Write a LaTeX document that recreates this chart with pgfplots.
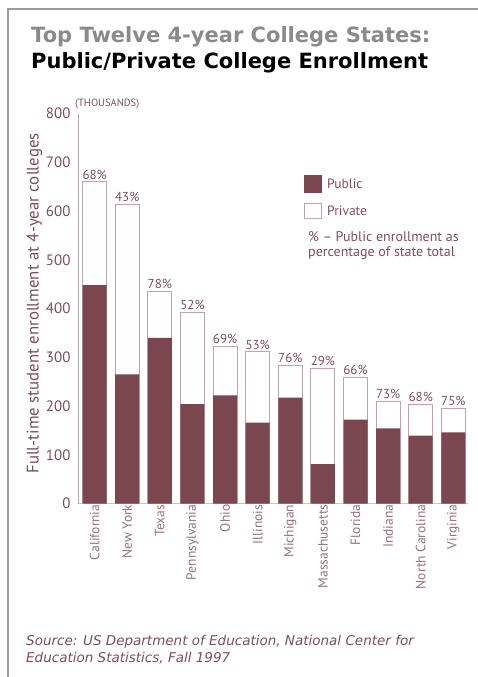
\documentclass[border=0pt]{standalone}
\usepackage{pgfplots}
\pgfplotsset{compat=1.18}
\usepackage{pgfplotstable}
\usepackage{fontspec}
\setmainfont{PT Sans}
\newfontfamily\verd{DejaVu Sans}

\definecolor{pubcol}{HTML}{7A4650}
\definecolor{txtcol}{HTML}{7E4E57}
\definecolor{lightcol}{HTML}{C4A2A8}
\definecolor{framecol}{HTML}{9A9A9A}
\definecolor{titlegray}{HTML}{8A8A8A}

% enrollment in thousands: public, state total, public share (%)
\pgfplotstableread{
x pub total pct
0 448 660 68
1 265 614 43
2 340 436 78
3 204 392 52
4 222 322 69
5 166 311 53
6 217 284 76
7 81 277 29
8 172 259 66
9 154 210 73
10 139 203 68
11 146 195 75
}\enroll

\begin{document}
\begin{tikzpicture}
\begin{scope}[x=1pt,y=1pt]
\useasboundingbox (0,0) rectangle (478,-677);
% frame
\draw[framecol, line width=1.6pt] (478,-9) -- (8,-9) -- (8,-677);
% title
\node[anchor=base west, inner sep=0, font=\verd\bfseries\fontsize{21}{25}\selectfont, text=titlegray] at (31,-43) {Top Twelve 4-year College States:};
\node[anchor=base west, inner sep=0, font=\verd\bfseries\fontsize{21}{25}\selectfont, text=black] at (31,-68) {Public/Private College Enrollment};
\coordinate (axorigin) at (78,-503.5);
\end{scope}

\begin{axis}[
  at={(axorigin)}, anchor=south west,
  scale only axis, width=390pt, height=390pt,
  xmin=-0.51, xmax=11.45, ymin=0, ymax=800,
  ybar, bar width=24pt,
  axis x line=bottom, axis y line=left,
  axis line style={-, draw=lightcol, line width=0.9pt},
  x axis line style={draw=lightcol!70},
  xtick=data,
  xticklabels={California,New York,Texas,Pennsylvania,Ohio,Illinois,Michigan,Massachusetts,Florida,Indiana,North Carolina,Virginia},
  xticklabel style={rotate=90, anchor=east, font=\fontsize{13.5}{15}\selectfont, text=txtcol!80, inner sep=1pt},
  ytick={0,100,...,800},
  yticklabel style={font=\fontsize{15}{17}\selectfont, text=txtcol, xshift=-4pt},
  /pgf/number format/assume math mode=true,
  major tick length=0pt,
  ylabel={Full-time student enrollment at 4-year colleges},
  ylabel style={font=\fontsize{16.8}{19}\selectfont, text=txtcol, at={(axis description cs:-0.112,0.513)}, anchor=center},
  clip=false,
]
% state total: outlined bar, private share shows as the white part
\addplot[bar shift=0pt, fill=white, draw=lightcol, line width=0.8pt,
  point meta=explicit symbolic,
  nodes near coords={\pgfplotspointmeta\%},
  every node near coord/.append style={anchor=south, font=\fontsize{13}{15}\selectfont, text=txtcol, inner sep=2pt}]
  table[x=x, y=total, meta=pct] {\enroll};
% public enrollment drawn over it
\addplot[bar shift=0pt, fill=pubcol, draw=none] table[x=x, y=pub] {\enroll};
\end{axis}

\begin{scope}[x=1pt,y=1pt]
\node[anchor=base west, inner sep=0, font=\fontsize{10.5}{12}\selectfont, text=txtcol] at (75,-106.5) {(THOUSANDS)};

% legend
\fill[pubcol] (304,-175) rectangle (322,-193);
\draw[lightcol, line width=0.8pt] (304.4,-203.5) rectangle (321.6,-218.5);
\node[anchor=west, inner sep=0, font=\fontsize{13.5}{15}\selectfont, text=txtcol] at (327,-184) {Public};
\node[anchor=west, inner sep=0, font=\fontsize{13.5}{15}\selectfont, text=txtcol] at (327,-211) {Private};
\node[anchor=north west, inner sep=0, align=left, font=\fontsize{14}{15}\selectfont, text=txtcol] at (308,-231) {\% -- Public enrollment as\\percentage of state total};

% source
\node[anchor=base west, inner sep=0, font=\verd\itshape\fontsize{13.5}{16.7}\selectfont, text=txtcol] at (26,-645) {Source: US Department of Education, National Center for};
\node[anchor=base west, inner sep=0, font=\verd\itshape\fontsize{13.5}{16.7}\selectfont, text=txtcol] at (26,-662) {Education Statistics, Fall 1997};
\end{scope}
\end{tikzpicture}
\end{document}
